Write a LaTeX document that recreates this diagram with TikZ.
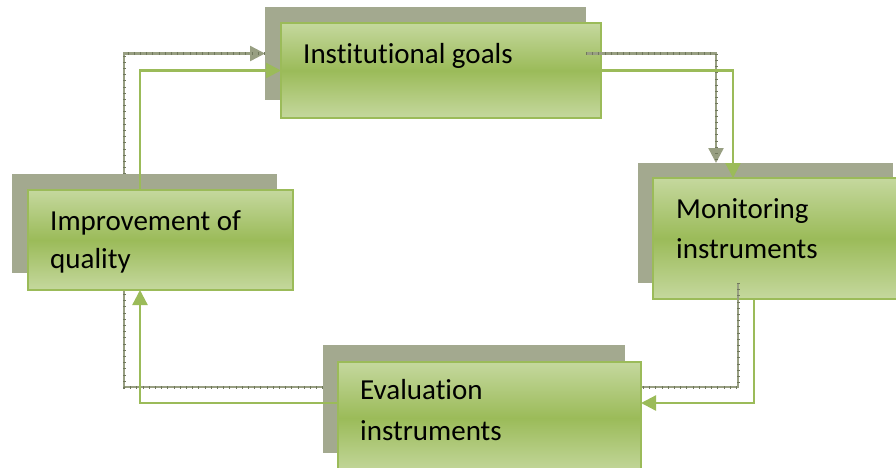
\documentclass[tikz,border=0pt]{standalone}
\usepackage{fontspec}
\setmainfont{Carlito}[Ligatures=NoCommon]
\usetikzlibrary{arrows.meta,calc}
\definecolor{shadowgray}{RGB}{163,169,143}
\definecolor{linegray}{RGB}{152,159,130}
\definecolor{tickgray}{RGB}{112,120,92}
\definecolor{leafgreen}{RGB}{155,187,89}
\definecolor{lightgreen}{RGB}{197,216,158}
\begin{document}
\begin{tikzpicture}[x=1pt,y=-1pt,
  sbox/.style={fill=shadowgray, draw=none, inner sep=0pt, outer sep=0pt, anchor=north west},
  frontbox/.style={draw=leafgreen, line width=2pt, top color=lightgreen, bottom color=lightgreen, middle color=leafgreen, inner sep=0pt, outer sep=0pt, anchor=north west},
  lbl/.style={anchor=base west, inner sep=0pt, font=\fontsize{29}{38}\selectfont},
  greencon/.style={draw=leafgreen, line width=2.3pt, -{Triangle[length=15pt,width=15pt]}},
  graycon/.style={draw=linegray, line width=2.4pt, -{Triangle[length=15pt,width=15pt]},
    postaction={draw=tickgray, line width=3pt, dash pattern=on 0.7pt off 5.5pt, -}}
]
\useasboundingbox (0,0) rectangle (896,467);
% shadows
\node[sbox, minimum width=321pt, minimum height=93pt] (goalS) at (265,7) {};
\node[sbox, minimum width=255pt, minimum height=120pt] (monS) at (638,163) {};
\node[sbox, minimum width=265pt, minimum height=99pt] (impS) at (12,174) {};
\node[sbox, minimum width=302pt, minimum height=108pt] (evaS) at (323,345) {};
% goal box
\node[frontbox, minimum width=320pt, minimum height=95pt] (goal) at (281,23) {};
\node[lbl] (goalT) at (303,63) {Institutional goals};
\draw[graycon] (goalS.east) -| ($(monS.north west)+(78,0)$);
% mon box
\node[frontbox, minimum width=247pt, minimum height=121pt] (mon) at (653,178) {};
\node[lbl] (monT1) at (676,218) {Monitoring};
\node[lbl] (monT2) at (676,258) {instruments};
\draw[greencon] (goal.east) -| ($(mon.north west)+(80,0)$);
\draw[graycon] ($(monS.south west)+(100,0)$) |- ($(evaS.north east)+(0,42)$);
% eva box
\node[frontbox, minimum width=303pt, minimum height=112pt] (eva) at (338,362) {};
\node[lbl] (evaT1) at (360,399) {Evaluation};
\node[lbl] (evaT2) at (360,440) {instruments};
\draw[greencon] ($(mon.south west)+(101,0)$) |- ($(eva.north east)+(0,41)$);
\draw[graycon] ($(evaS.north west)+(0,42)$) -| ($(impS.south west)+(112,0)$);
% imp box
\node[frontbox, minimum width=265pt, minimum height=100pt] (imp) at (28,190) {};
\node[lbl] (impT1) at (50,230) {Improvement of};
\node[lbl] (impT2) at (50,268) {quality};
\draw[greencon] ($(eva.north west)+(0,41)$) -| ($(imp.south west)+(112,0)$);
\draw[graycon] ($(impS.north west)+(112,0)$) |- (goalS.west);
\draw[greencon] ($(imp.north west)+(112,0)$) |- (goal.west);
\end{tikzpicture}
\end{document}
